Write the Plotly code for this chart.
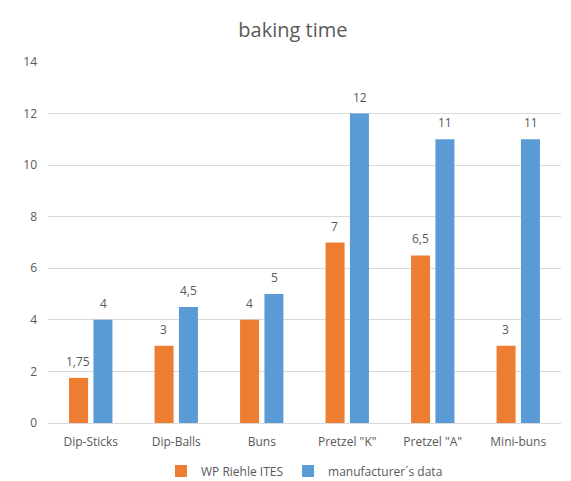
import plotly.graph_objects as go

categories = ["Dip-Sticks", "Dip-Balls", "Buns", 'Pretzel "K"', 'Pretzel "A"', "Mini-buns"]
wp_riehle = [1.75, 3, 4, 7, 6.5, 3]
manufacturer = [4, 4.5, 5, 12, 11, 11]
series_names = ["WP Riehle ITES", "manufacturer\u00b4s data"]
y_ticks = [0, 2, 4, 6, 8, 10, 12, 14]

colors = ["#ED7D31", "#5B9BD5"]
font_family = "Open Sans, Noto Sans, sans-serif"
grey = "#595959"

def fmt(v):
    s = ("%g" % v)
    return s.replace(".", ",")

fig = go.Figure()
for name, vals, col in zip(series_names, [wp_riehle, manufacturer], colors):
    fig.add_trace(go.Bar(x=categories, y=vals, name=name, marker_color=col,
                         marker_line_width=0))

annotations = []
for si, vals in enumerate([wp_riehle, manufacturer]):
    shift = -12.5 if si == 0 else 12.5
    for c, v in zip(categories, vals):
        annotations.append(dict(x=c, y=v, text=fmt(v), showarrow=False,
                                xshift=shift, yshift=6, yanchor="bottom",
                                font=dict(family=font_family, size=12, color=grey)))

fig.update_layout(
    width=571, height=481,
    margin=dict(l=48, r=10, t=62, b=58, autoexpand=False),
    paper_bgcolor="white", plot_bgcolor="white",
    title=dict(text="baking time", x=0.513, xanchor="center", y=0.938, yanchor="middle",
               font=dict(family=font_family, size=20, color=grey)),
    barmode="group", bargap=0.43, bargroupgap=0.22,
    annotations=annotations,
    showlegend=True,
    legend=dict(orientation="h", x=0.5, xanchor="center", y=0.021, yanchor="middle",
                yref="container",
                font=dict(family=font_family, size=12, color=grey),
                itemwidth=30, traceorder="normal"),
    font=dict(family=font_family, size=12, color=grey),
)
fig.update_yaxes(range=[0, 14], tickvals=y_ticks, showgrid=True, gridcolor="#d9d9d9",
                 gridwidth=1, zeroline=False, showline=False,
                 ticklabelstandoff=10, tickfont=dict(size=12, color=grey))
fig.update_xaxes(showline=True, linecolor="#d9d9d9", linewidth=1, showgrid=False,
                 ticklabelstandoff=8, tickfont=dict(size=12, color=grey))

fig.write_html("out.html")
